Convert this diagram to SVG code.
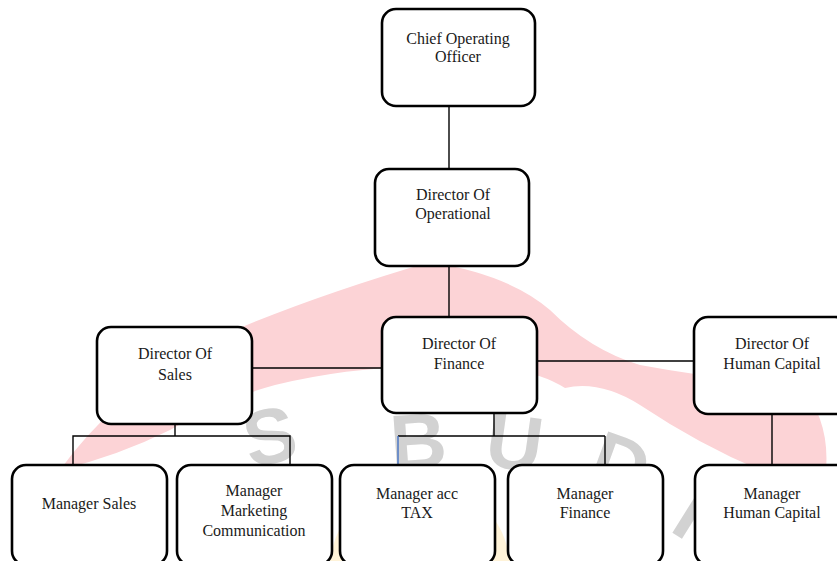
<svg xmlns="http://www.w3.org/2000/svg" width="837" height="561" viewBox="0 0 837 561">
<style>
.box{fill:#ffffff;stroke:#000000;stroke-width:2.6}
.lbl{font-family:"Liberation Serif","Times New Roman",serif;font-size:16px;fill:#1a1a1a;text-anchor:middle}
.ln{stroke:#000000;stroke-width:1.4;fill:none}
.wm{font-family:"Liberation Sans",Arial,sans-serif;font-size:78px;font-weight:bold;fill:#d2d2d2}
</style>
<rect width="837" height="561" fill="#ffffff"/>
<g id="watermark">
<path d="M 330 561 Q 340 490 420 485 Q 500 490 510 561 Z" fill="#fff3d8"/>
<path d="M 60 470 Q 110 400 200 345 Q 300 300 430 262 Q 510 275 550 310 Q 590 350 640 365 Q 720 380 800 385 Q 830 420 826 470 L 760 470 Q 700 445 640 405 Q 600 380 565 388 Q 540 372 500 368 L 430 368 Q 360 365 275 385 Q 220 400 170 430 Q 120 455 60 470 Z" fill="#fcd3d6"/>
<text class="wm" transform="translate(250 468) rotate(-12)">S</text>
<text class="wm" transform="translate(392 470) rotate(-4)">B</text>
<text class="wm" transform="translate(483 465) rotate(8)">U</text>
<text class="wm" transform="translate(585 480) rotate(20)">D</text>
<text class="wm" transform="translate(668 530) rotate(32)">H</text>
</g>
<g id="connectors">
<line class="ln" x1="449" y1="106" x2="449" y2="169"/>
<line class="ln" x1="449" y1="266" x2="449" y2="317"/>
<line class="ln" x1="252" y1="368" x2="382" y2="368"/>
<line class="ln" x1="537" y1="361" x2="693" y2="361"/>
<line class="ln" x1="175" y1="424" x2="175" y2="436"/>
<polyline class="ln" points="73,465 73,436 290,436 290,469"/>
<line class="ln" x1="494" y1="413" x2="494" y2="436"/>
<line class="ln" x1="398" y1="436" x2="605" y2="436"/>
<line x1="398" y1="436" x2="398" y2="465" stroke="#4472c4" stroke-width="1.4"/>
<line class="ln" x1="605" y1="436" x2="605" y2="465"/>
<line class="ln" x1="772" y1="414" x2="772" y2="465"/>
</g>
<g id="coo">
<rect class="box" x="382" y="9" width="153" height="97" rx="14"/>
<text class="lbl" x="458" y="44">Chief Operating</text>
<text class="lbl" x="458" y="62">Officer</text>
</g>
<g id="dir-operational">
<rect class="box" x="375" y="169" width="154" height="97" rx="14"/>
<text class="lbl" x="453" y="200">Director Of</text>
<text class="lbl" x="453" y="219">Operational</text>
</g>
<g id="dir-sales">
<rect class="box" x="97" y="327" width="155" height="97" rx="14"/>
<text class="lbl" x="175" y="359">Director Of</text>
<text class="lbl" x="175" y="380">Sales</text>
</g>
<g id="dir-finance">
<rect class="box" x="382" y="317" width="155" height="96" rx="14"/>
<text class="lbl" x="459" y="349">Director Of</text>
<text class="lbl" x="459" y="369">Finance</text>
</g>
<g id="dir-human-capital">
<rect class="box" x="694" y="317" width="155" height="97" rx="14"/>
<text class="lbl" x="772" y="349">Director Of</text>
<text class="lbl" x="772" y="369">Human Capital</text>
</g>
<g id="mgr-sales">
<rect class="box" x="12" y="465" width="155" height="100" rx="14"/>
<text class="lbl" x="89" y="509">Manager Sales</text>
</g>
<g id="mgr-marketing">
<rect class="box" x="177" y="465" width="155" height="100" rx="14"/>
<text class="lbl" x="254" y="496">Manager</text>
<text class="lbl" x="254" y="516">Marketing</text>
<text class="lbl" x="254" y="536">Communication</text>
</g>
<g id="mgr-acc-tax">
<rect class="box" x="340" y="465" width="155" height="100" rx="14"/>
<text class="lbl" x="417" y="499">Manager acc</text>
<text class="lbl" x="417" y="518">TAX</text>
</g>
<g id="mgr-finance">
<rect class="box" x="508" y="465" width="155" height="100" rx="14"/>
<text class="lbl" x="585" y="499">Manager</text>
<text class="lbl" x="585" y="518">Finance</text>
</g>
<g id="mgr-human-capital">
<rect class="box" x="695" y="465" width="155" height="100" rx="14"/>
<text class="lbl" x="772" y="499">Manager</text>
<text class="lbl" x="772" y="518">Human Capital</text>
</g>
</svg>
